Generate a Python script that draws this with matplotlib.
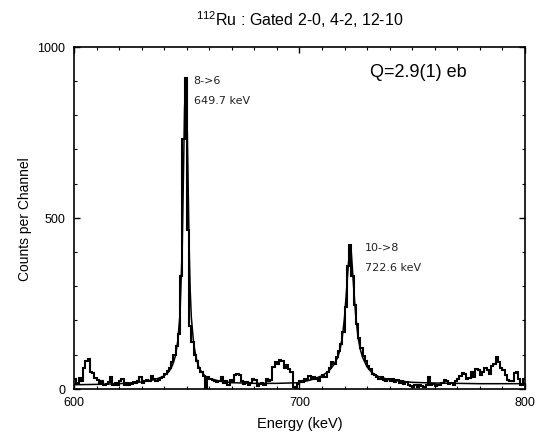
import numpy as np
import matplotlib
matplotlib.use('Agg')
import matplotlib.pyplot as plt
from matplotlib.ticker import MultipleLocator

# spectrum, 1 keV channels from 600 to 800 keV (counts)
bin_start = 600
bin_width = 1
counts = [
    30, 18, 32, 22, 60, 80, 88, 50, 45, 32,      # 600
    25, 15, 22, 10, 14, 20, 34, 12, 16, 10,      # 610
    22, 28, 12, 18, 10, 14, 20, 16, 22, 34,      # 620
    18, 22, 26, 24, 38, 28, 22, 26, 33, 36,      # 630
    42, 52, 60, 78, 100, 125, 160, 330, 730, 910,  # 640
    463, 185, 137, 100, 80, 62, 48, 38, 2, 34,   # 650
    30, 26, 24, 20, 22, 34, 18, 22, 12, 26,      # 660
    20, 40, 44, 40, 22, 14, 20, 10, 16, 30,      # 670
    26, 8, 14, 18, 10, 30, 24, 26, 64, 78,       # 680
    72, 84, 80, 62, 70, 58, 48, 6, 2, 14,        # 690
    22, 20, 30, 26, 38, 28, 36, 30, 24, 34,      # 700
    40, 36, 50, 62, 78, 74, 92, 110, 130, 165,   # 710
    240, 360, 420, 330, 245, 190, 150, 118, 96, 80,  # 720
    66, 58, 44, 40, 34, 30, 36, 26, 24, 30,      # 730
    22, 28, 20, 26, 18, 22, 14, 20, 12, 8,       # 740
    6, 10, 6, 12, 8, 4, 10, 36, 10, 14,          # 750
    8, 12, 10, 16, 26, 24, 14, 18, 12, 22,       # 760
    30, 38, 46, 42, 28, 32, 48, 36, 58, 56,      # 770
    40, 50, 62, 54, 44, 66, 72, 92, 78, 60,      # 780
    56, 40, 26, 24, 22, 46, 50, 30, 12, 28,      # 790
]

# fitted curve (two peaks on a flat background)
fit_energy = [600, 610, 620, 630, 635, 638, 640, 642, 643, 644, 645, 646, 647,
              648, 648.5, 649, 649.5, 650, 650.5, 651, 651.5, 652, 653, 654,
              655, 656, 658, 660, 665, 670, 680, 690, 700, 705, 710, 713, 715,
              717, 718, 719, 720, 721, 722, 722.6, 723, 724, 725, 726, 727,
              728, 730, 732, 735, 740, 750, 760, 780, 800]
fit_counts = [12, 13, 15, 20, 26, 32, 38, 50, 60, 75, 98, 140, 220,
              420, 620, 820, 905, 840, 640, 430, 290, 210, 135, 95,
              70, 55, 38, 30, 22, 18, 16, 16, 18, 26, 38, 52, 68,
              92, 115, 150, 210, 300, 390, 415, 400, 300, 210, 150, 115,
              92, 64, 48, 36, 26, 19, 17, 15, 15]

peak_labels = [('8->6', '649.7 keV'), ('10->8', '722.6 keV')]
peak_label_pos = [(653, 918), (729, 430)]

edges = bin_start + bin_width * np.arange(len(counts) + 1)

plt.rcParams['font.family'] = ['Liberation Sans', 'DejaVu Sans']

fig = plt.figure(figsize=(5.45, 4.39), dpi=100)
ax = fig.add_axes([0.136, 0.112, 0.827, 0.779])

ax.stairs(counts, edges, color='black', linewidth=1.5, baseline=None)
ax.plot(fit_energy, fit_counts, color='black', linewidth=1.1)

for (name, energy), (x, y) in zip(peak_labels, peak_label_pos):
    ax.text(x, y, name, fontsize=8, family='DejaVu Sans', va='top', color='#222222')
    ax.text(x, y - 60, energy, fontsize=8, family='DejaVu Sans', va='top', color='#222222')

ax.text(731.5, 928, 'Q=2.9(1) eb', fontsize=13, va='center')

ax.set_xlim(600, 800)
ax.set_ylim(0, 1000)
ax.xaxis.set_major_locator(MultipleLocator(100))
ax.xaxis.set_minor_locator(MultipleLocator(10))
ax.yaxis.set_major_locator(MultipleLocator(500))
ax.yaxis.set_minor_locator(MultipleLocator(100))
ax.tick_params(which='both', direction='in', top=True, right=True, labelsize=9)
ax.tick_params(which='major', length=4, width=1)
ax.tick_params(which='minor', length=2.5, width=0.8)
ax.tick_params(axis='y', pad=6.5)
ax.tick_params(axis='x', pad=5)
for s in ax.spines.values():
    s.set_linewidth(1.2)

ax.set_xlabel('Energy (keV)', fontsize=10.5, labelpad=6)
ax.set_ylabel('Counts per Channel', fontsize=10)
ax.set_title(r'$\mathregular{^{112}}$Ru : Gated 2-0, 4-2, 12-10', fontsize=11.5, pad=16)

fig.savefig('out.png', dpi=100)
